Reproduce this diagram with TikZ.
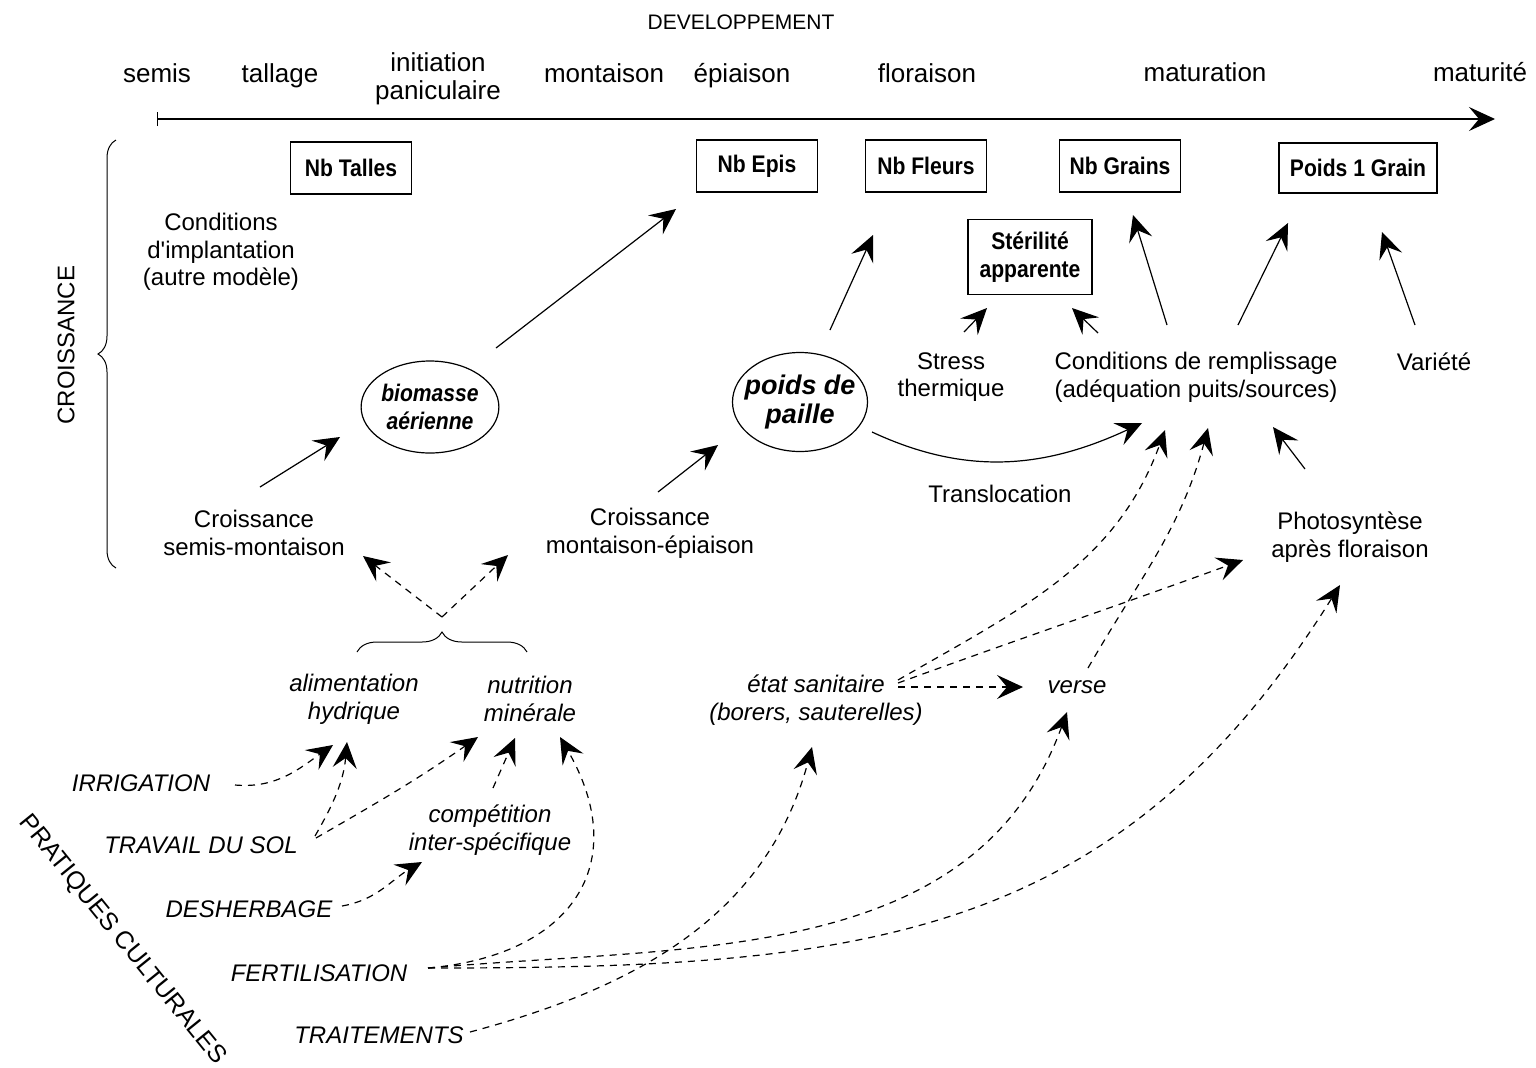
\documentclass[tikz,border=0pt]{standalone}
\usepackage{fontspec}
\setmainfont{Liberation Sans}
\newfontfamily\etroit[FakeStretch=0.88]{Liberation Sans}
\usetikzlibrary{arrows.meta,calc,shapes.geometric,decorations.pathreplacing}
\tikzset{
  texte/.style = {align=center, inner sep=1pt, font=\fontsize{12}{13.8}\selectfont},
  ital/.style = {align=center, inner sep=1pt, font=\fontsize{12}{13.8}\selectfont\itshape},
  phase/.style = {anchor=base, align=center, inner sep=1pt, font=\fontsize{13}{14}\selectfont},
  boite/.style = {draw, line width=0.6pt, minimum width=60.5pt, minimum height=26pt, align=center,
    font=\etroit\bfseries\fontsize{12}{13.8}\selectfont},
  bulle/.style = {draw, ellipse, line width=0.6pt, inner sep=0pt, align=center},
  fleche/.style = {line width=0.6pt, -{Stealth[length=13pt,width=12pt,inset=5pt]}},
  pointille/.style = {fleche, dash pattern=on 3.5pt off 3pt}
}
\begin{document}
\begin{tikzpicture}[x=0.5pt, y=-0.5pt]
    \useasboundingbox (0,0) rectangle (1536,1067);
    % axe du developpement
    \node [texte, font=\fontsize{10.5}{12}\selectfont] (dev) at (741,22) {DEVELOPPEMENT};
    \node [phase] (semis) at (157,82) {semis};
    \node [phase] (tallage) at (280,82) {tallage};
    \node [phase, anchor=center] (initiation) at (438,79) {initiation\\paniculaire};
    \node [phase] (montaison) at (604,82) {montaison};
    \node [phase] (epiaison) at (742,82) {épiaison};
    \node [phase] (floraison) at (927,82) {floraison};
    \node [phase] (maturation) at (1205,81) {maturation};
    \node [phase] (maturite) at (1480,81) {maturité};
    \coordinate (t0) at (157,119);
    \coordinate (t1) at (1495,119);
    \draw [line width=0.6pt, {Bar[width=7pt]}-{Stealth[length=13pt,width=12pt,inset=5pt]}] (t0) -- (t1);

    % composantes du rendement
    \node [boite] (talles) at (351,168) {Nb Talles};
    \node [boite] (epis) at (757,166) {Nb Epis};
    \node [boite] (fleurs) at (926,166) {Nb Fleurs};
    \node [boite] (grains) at (1120,166) {Nb Grains};
    \node [boite, minimum width=79pt, minimum height=25pt] (poids1) at (1358,168) {Poids 1 Grain};
    \node [boite, minimum width=62pt, minimum height=37.5pt] (steril) at (1030,257) {Stérilité\\apparente};

    % croissance
    \node [texte, rotate=90] (crois) at (66,345) {CROISSANCE};
    \draw [decorate, decoration={brace, amplitude=9pt}, line width=0.5pt] (116,568) -- (116,140);
    \node [texte] (cimp) at (221,252) {Conditions\\d\textquotesingle implantation\\(autre modèle)};
    \node [bulle, minimum width=67.5pt, minimum height=46pt, font=\etroit\bfseries\itshape\fontsize{12}{13.8}\selectfont] (bio) at (430,407) {biomasse\\aérienne};
    \node [bulle, inner xsep=-4pt, minimum width=67.5pt, minimum height=49.5pt, font=\bfseries\itshape\fontsize{13.5}{14.5}\selectfont] (pdp) at (800,402) {poids de\\paille};
    \node [texte] (csm) at (254,533) {Croissance\\semis-montaison};
    \node [texte] (cme) at (650,533) {Croissance\\montaison-épiaison};
    \node [texte] (stress) at (951,377) {Stress\\thermique};
    \node [texte] (cond) at (1196,377) {Conditions de remplissage\\(adéquation puits/sources)};
    \node [texte] (variete) at (1434,362) {Variété};
    \node [texte] (transl) at (1000,494) {Translocation};
    \node [texte] (photo) at (1350,537) {Photosyntèse\\après floraison};

    % facteurs
    \draw [decorate, decoration={brace, amplitude=10pt}, line width=0.5pt] (357,652) -- (527,652);
    \coordinate (accol) at (442,617);
    \node [ital] (alim) at (354,699) {alimentation\\hydrique};
    \node [ital] (nutmin) at (530,699) {nutrition\\minérale};
    \node [ital] (compet) at (490,830) {compétition\\inter-spécifique};
    \node [ital] (etat) at (816,700) {état sanitaire\\(borers, sauterelles)};
    \node [ital] (verse) at (1077,687) {verse};

    % pratiques culturales
    \node [texte, rotate=-51, font=\fontsize{12.5}{14}\selectfont] (prat) at (122,940) {PRATIQUES CULTURALES};
    \node [ital] (irrig) at (141,783) {IRRIGATION};
    \node [ital] (travail) at (201,845) {TRAVAIL DU SOL};
    \node [ital] (desherb) at (249,909) {DESHERBAGE};
    \node [ital] (fert) at (319,973) {FERTILISATION};
    \node [ital] (trait) at (379,1035) {TRAITEMENTS};

    % fleches pleines
    \draw [fleche] ($(csm)+(6,-46)$) -- ($(bio)+(-90,30)$);
    \draw [fleche] ($(bio)+(66,-59)$) -- ($(epis)+(-81,43)$);
    \draw [fleche] ($(cme)+(8,-41)$) -- ($(pdp)+(-82,43)$);
    \draw [fleche] ($(pdp)+(30,-72)$) -- ($(fleurs)+(-53,69)$);
    \draw [fleche] ($(pdp)+(72,30)$) to [out=-25, in=205] ($(cond)+(-54,46)$);
    \draw [fleche] ($(stress)+(13,-45)$) -- ($(steril)+(-43,51)$);
    \draw [fleche] ($(cond)+(-98,-44)$) -- ($(steril)+(42,51)$);
    \draw [fleche] ($(cond)+(-29,-52)$) -- ($(grains)+(13,49)$);
    \draw [fleche] ($(cond)+(42,-52)$) -- ($(poids1)+(-70,55)$);
    \draw [fleche] ($(variete)+(-19,-37)$) -- ($(poids1)+(24,64)$);
    \draw [fleche] ($(photo)+(-45,-68)$) -- ($(cond)+(77,50)$);

    % fleches pointillees
    \draw [pointille] (accol) -- ($(csm)+(109,23)$);
    \draw [pointille] (accol) -- ($(cme)+(-142,22)$);
    \draw [pointille] ($(irrig)+(94,2)$) to [out=-5, in=215] ($(alim)+(-21,46)$);
    \draw [pointille] ($(travail)+(114,-9)$) to [out=60, in=265] ($(alim)+(-7,43)$);
    \draw [pointille] ($(travail)+(115,-7)$) to [out=30, in=215] ($(nutmin)+(-52,38)$);
    \draw [pointille] ($(compet)+(3,-42)$) -- ($(nutmin)+(-15,39)$);
    \draw [pointille] ($(desherb)+(93,-3)$) to [out=10, in=210] ($(compet)+(-68,32)$);
    \draw [pointille] ($(fert)+(109,-5)$) to [out=5, in=-60, looseness=1.4] ($(nutmin)+(30,38)$);
    \draw [pointille] ($(fert)+(109,-5)$) to [out=5, in=250] ($(verse)+(-10,25)$);
    \draw [pointille] ($(fert)+(109,-5)$) to [out=0, in=238, looseness=1.1] ($(photo)+(-10,48)$);
    \draw [pointille] ($(trait)+(91,-3)$) to [out=15, in=255] ($(etat)+(-4,47)$);
    \draw [pointille] ($(etat)+(82,-13)$) -- ($(verse)+(-54,0)$);
    \draw [pointille] ($(etat)+(82,-20)$) to [out=30, in=250] ($(cond)+(-31,53)$);
    \draw [pointille] ($(etat)+(82,-17)$) to [out=20, in=200] ($(photo)+(-107,23)$);
    \draw [pointille] ($(verse)+(11,-19)$) to [out=60, in=255] ($(cond)+(12,51)$);
\end{tikzpicture}
\end{document}
